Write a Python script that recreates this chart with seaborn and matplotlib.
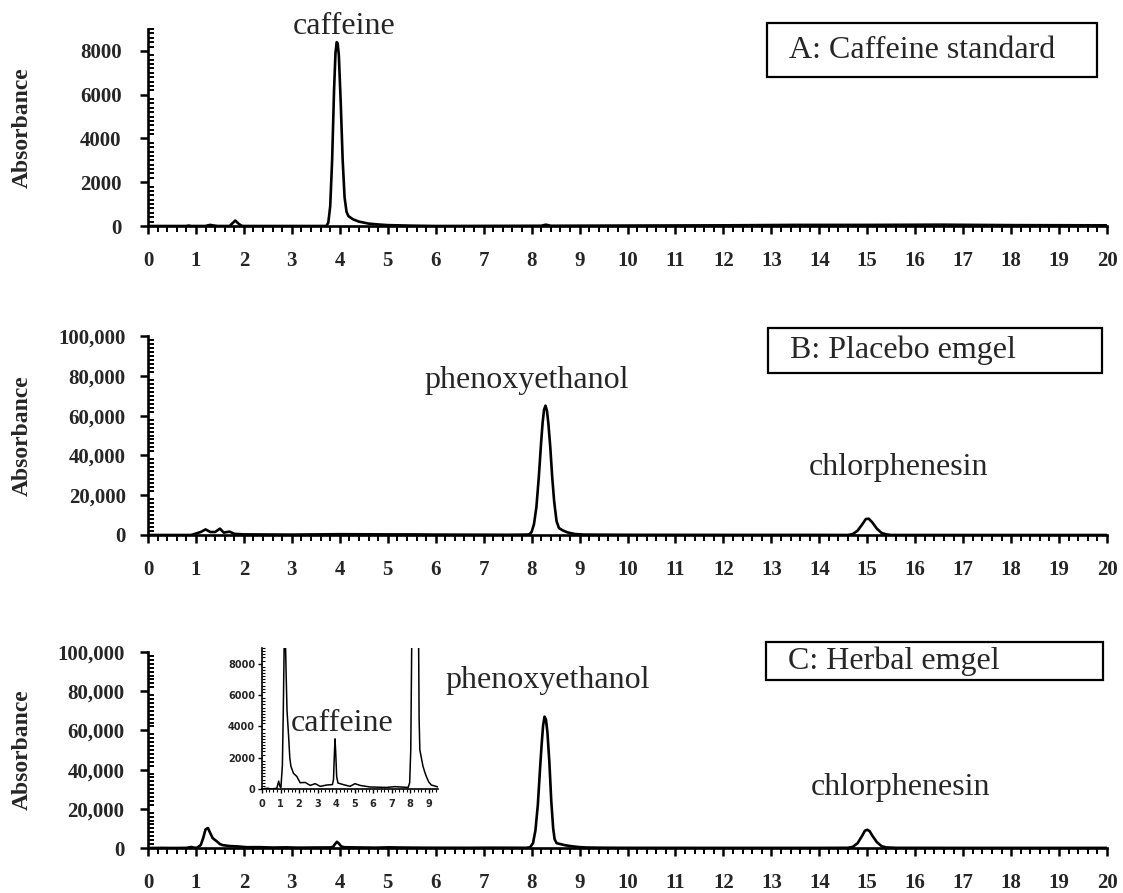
import numpy as np
import pandas as pd
import matplotlib
matplotlib.use("Agg")
import matplotlib.pyplot as plt
from matplotlib.ticker import MultipleLocator, FixedLocator
from matplotlib.patches import Rectangle
import seaborn as sns

# ---------------- data ----------------
# Panel A: caffeine standard
time_A = [0.0, 0.8, 0.85, 0.9, 1.2, 1.25, 1.3, 1.36, 1.45, 1.7, 1.76, 1.82, 1.88, 1.95, 2.0,
          3.0, 3.72, 3.76, 3.8, 3.84, 3.88, 3.91, 3.935, 3.955, 3.98, 4.02, 4.06, 4.10, 4.14, 4.18,
          4.28, 4.4, 4.6, 4.8, 5.0, 5.5, 6.0, 8.2, 8.3, 8.4, 10.0, 12.0, 13.5, 15.0, 16.5, 18.0, 20.0]
abs_A = [0, 0, 20, 0, 0, 30, 50, 25, 0, 0, 120, 250, 120, 10, 0,
         0, 0, 150, 900, 3000, 6200, 7900, 8400, 8350, 7800, 5600, 3000, 1300, 650, 450,
         300, 200, 110, 70, 40, 15, 0, 10, 60, 10, 20, 30, 50, 50, 60, 40, 30]

# Panel B: placebo emgel
time_B = [0.0, 0.9, 1.1, 1.2, 1.3, 1.4, 1.5, 1.58, 1.7, 1.8, 2.0, 3.0, 4.0, 5.0, 5.5, 6.0, 7.5, 7.9,
          7.95, 8.0, 8.05, 8.1, 8.15, 8.2, 8.23, 8.26, 8.29, 8.32, 8.35, 8.39, 8.43, 8.47, 8.52, 8.57, 8.65,
          8.75, 8.9, 9.1, 10.0, 12.0, 14.0, 14.6, 14.7, 14.8, 14.9, 14.97, 15.03, 15.1, 15.2,
          15.3, 15.4, 15.5, 17.0, 20.0]
abs_B = [0, 0, 1500, 2800, 1500, 1500, 3200, 1200, 1700, 600, 300, 200, 400, 300, 300, 200, 100, 200,
         300, 1500, 5500, 14000, 29000, 47000, 56500, 63000, 65000, 62500, 56000, 44000, 29000, 17000, 7000, 3500, 2300,
         1300, 500, 200, 100, 50, 50, 0, 500, 2200, 5500, 8000, 8200, 6500, 3200,
         1000, 300, 0, 0, 0]

# Panel C: herbal emgel (inset shows the same trace, zoomed)
time_C = [0.0, 0.3, 0.5, 0.8, 0.9, 0.97, 1.02, 1.1, 1.15, 1.2, 1.25, 1.3, 1.35, 1.43, 1.5, 1.56,
          1.7, 1.88, 2.06, 2.33, 2.6, 2.87, 3.14, 3.5, 3.8, 3.86, 3.9, 3.94, 3.98, 4.03, 4.1,
          4.39, 4.75, 5.02, 5.29, 5.82, 6.72, 7.17, 7.89, 7.97, 8.03, 8.08, 8.13, 8.18, 8.21,
          8.24, 8.27, 8.30, 8.33, 8.37, 8.41, 8.45, 8.48, 8.52, 8.6, 8.69, 8.78, 8.87, 9.0, 9.14, 9.5,
          10.0, 12.0, 14.0, 14.6, 14.7, 14.8, 14.9, 14.95, 15.0, 15.05, 15.1, 15.2, 15.3, 15.4, 15.6,
          17.0, 20.0]
abs_C = [0, 50, 0, 50, 500, 150, 100, 1500, 5000, 9500, 10200, 7500, 5000, 3500, 2000, 1450,
         1000, 800, 400, 420, 230, 340, 170, 255, 280, 600, 2000, 3200, 2300, 800, 380,
         280, 170, 340, 230, 130, 100, 150, 100, 400, 2500, 9000, 22000, 42000, 53000,
         62500, 67000, 65500, 59000, 44000, 24000, 10000, 4500, 2500, 2000, 1450, 1100, 800, 450, 255, 130,
         80, 50, 50, 100, 600, 2500, 6500, 8800, 9300, 8600, 6500, 3000, 900, 300, 80,
         50, 50]

x_ticks = list(range(0, 21))
x_tick_labels = [str(v) for v in x_ticks]
y_ticks_A = [0, 2000, 4000, 6000, 8000]
y_tick_labels_A = ["0", "2000", "4000", "6000", "8000"]
y_ticks_BC = [0, 20000, 40000, 60000, 80000, 100000]
y_tick_labels_BC = ["0", "20,000", "40,000", "60,000", "80,000", "100,000"]
inset_x_ticks = list(range(0, 10))
inset_y_ticks = [0, 2000, 4000, 6000, 8000]

panel_titles = ["A: Caffeine standard", "B: Placebo emgel", "C: Herbal emgel"]

# ---------------- style ----------------
sns.set_theme(style="ticks")
plt.rcParams["font.family"] = ["Liberation Serif", "DejaVu Serif"]
plt.rcParams["axes.linewidth"] = 1.9

W, H = 1123, 893
fig = plt.figure(figsize=(W / 100, H / 100), dpi=100)

LABEL_FS = 23
TICK_FS = 15


def fx(px):
    return px / W


def fy(py):
    return 1 - py / H


def make_axes(top_px, bottom_px):
    left, right = 148, 1107
    return fig.add_axes([fx(left), fy(bottom_px), fx(right - left), (bottom_px - top_px) / H])


def style_main(ax, ylim, yticks, ylabels, yminor, ypad):
    sns.despine(ax=ax)
    ax.set_xlim(0, 20)
    ax.set_ylim(*ylim)
    ax.xaxis.set_major_locator(FixedLocator(x_ticks))
    ax.set_xticklabels(x_tick_labels, fontweight="bold", fontsize=TICK_FS)
    ax.xaxis.set_minor_locator(MultipleLocator(0.2))
    ax.yaxis.set_major_locator(FixedLocator(yticks))
    ax.set_yticklabels(ylabels, fontweight="bold", fontsize=TICK_FS)
    ax.yaxis.set_minor_locator(MultipleLocator(yminor))
    ax.tick_params(axis="x", which="major", direction="out", length=6, width=1.8, pad=12, color="black")
    ax.tick_params(axis="x", which="minor", direction="out", length=4, width=1.4, color="black")
    ax.tick_params(axis="y", which="major", direction="out", length=6, width=1.8, pad=ypad, color="black")
    ax.tick_params(axis="y", which="minor", direction="in", length=4.5, width=1.4, color="black")
    ax.set_ylabel("Absorbance", fontweight="bold", fontsize=17)
    ax.yaxis.set_label_coords(-(148 - 33) / 959, 0.5)
    ax.set_xlabel("")
    for s in ax.spines.values():
        s.set_color("black")
    ax.set_facecolor("none")


def draw_box(x0, y0, x1, y1, text):
    fig.patches.append(Rectangle((fx(x0), fy(y1)), fx(x1 - x0), (y1 - y0) / H,
                                 transform=fig.transFigure, fill=False,
                                 edgecolor="black", linewidth=1.6))
    fig.text(fx(x0 + 22), fy((y0 + y1) / 2), text, fontsize=LABEL_FS, ha="left", va="center")


# ---------------- Panel A ----------------
axA = make_axes(29, 226)
dfA = pd.DataFrame({"time": time_A, "abs": abs_A})
sns.lineplot(data=dfA, x="time", y="abs", ax=axA, color="black", linewidth=1.9, sort=False)
style_main(axA, (0, 9000), y_ticks_A, y_tick_labels_A, 200, 13)
axA.text(4.1, 9100, "caffeine", fontsize=LABEL_FS, ha="center", va="center", clip_on=False)
draw_box(767, 23, 1097, 77, panel_titles[0])

# ---------------- Panel B ----------------
axB = make_axes(336, 535)
dfB = pd.DataFrame({"time": time_B, "abs": abs_B})
sns.lineplot(data=dfB, x="time", y="abs", ax=axB, color="black", linewidth=1.9, sort=False)
style_main(axB, (0, 100000), y_ticks_BC, y_tick_labels_BC, 2000, 10)
axB.text(7.9, 77500, "phenoxyethanol", fontsize=LABEL_FS, ha="center", va="center")
axB.text(15.65, 33700, "chlorphenesin", fontsize=LABEL_FS, ha="center", va="center")
draw_box(768, 328, 1102, 373, panel_titles[1])

# ---------------- Panel C ----------------
axC = make_axes(652, 848)
dfC = pd.DataFrame({"time": time_C, "abs": abs_C})
sns.lineplot(data=dfC, x="time", y="abs", ax=axC, color="black", linewidth=1.9, sort=False)
style_main(axC, (0, 100000), y_ticks_BC, y_tick_labels_BC, 2000, 11)
axC.text(8.34, 85700, "phenoxyethanol", fontsize=LABEL_FS, ha="center", va="center")
axC.text(15.7, 31000, "chlorphenesin", fontsize=LABEL_FS, ha="center", va="center")
draw_box(766, 642, 1103, 680, panel_titles[2])

# ---------------- Inset ----------------
axI = fig.add_axes([fx(262), fy(789), fx(438 - 262), (789 - 648) / H])
sns.lineplot(data=dfC, x="time", y="abs", ax=axI, color="black", linewidth=1.1, sort=False)
sns.despine(ax=axI)
axI.set_xlim(0, 9.5)
axI.set_ylim(0, 9000)
axI.xaxis.set_major_locator(FixedLocator(inset_x_ticks))
axI.set_xticklabels([str(v) for v in inset_x_ticks], fontweight="bold", fontsize=7,
                    family="DejaVu Sans")
axI.xaxis.set_minor_locator(MultipleLocator(0.2))
axI.yaxis.set_major_locator(FixedLocator(inset_y_ticks))
axI.set_yticklabels([str(v) for v in inset_y_ticks], fontweight="bold", fontsize=7,
                    family="DejaVu Sans")
axI.yaxis.set_minor_locator(MultipleLocator(200))
axI.tick_params(axis="x", which="major", direction="out", length=3, width=1.0, pad=4, color="black")
axI.tick_params(axis="x", which="minor", direction="out", length=2, width=0.8, color="black")
axI.tick_params(axis="y", which="major", direction="out", length=3, width=1.0, pad=2, color="black")
axI.tick_params(axis="y", which="minor", direction="in", length=2, width=0.8, color="black")
for s in axI.spines.values():
    s.set_linewidth(1.2)
    s.set_color("black")
axI.set_xlabel("")
axI.set_ylabel("")
axI.set_facecolor("white")
axI.text(4.3, 4200, "caffeine", fontsize=LABEL_FS, ha="center", va="center")

fig.savefig("out.png", dpi=100, facecolor="white")
